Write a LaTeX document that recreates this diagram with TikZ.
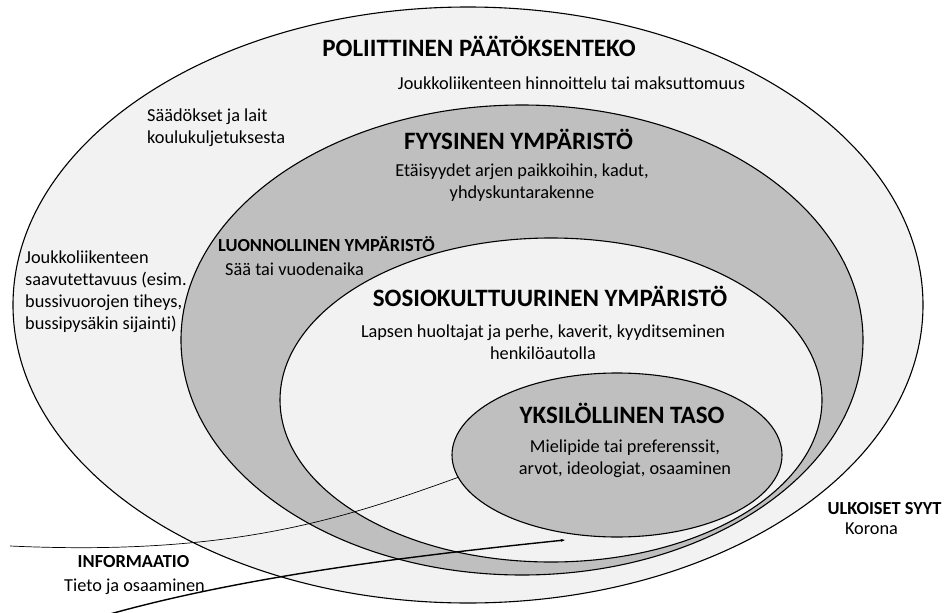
\documentclass[tikz,border=0pt]{standalone}
\usepackage{fontspec}
\setmainfont[Ligatures={NoCommon}]{Carlito}
\usetikzlibrary{shapes.geometric,arrows.meta}
\definecolor{ringlight}{HTML}{F2F2F2}
\definecolor{ringgray}{HTML}{BFBFBF}
\begin{document}
\begin{tikzpicture}[x=1pt,y=-1pt,
  ring/.style={ellipse,draw=black,line width=1.1pt,inner sep=0pt,outer sep=0pt},
  txt/.style={inner sep=0pt,font=\fontsize{18.3}{22}\selectfont},
  head/.style={inner sep=0pt,font=\fontsize{25}{30}\selectfont\bfseries},
  subhead/.style={inner sep=0pt,font=\fontsize{18.4}{22}\selectfont\bfseries}]
\useasboundingbox (0,0) rectangle (948,613);
\fill[white] (0,0) rectangle (948,613);
% rings
\node[ring,fill=ringlight,minimum width=910pt,minimum height=596pt] (polit) at (468,305) {};
\node[ring,fill=ringgray,minimum width=682pt,minimum height=470pt] (fyys) at (522,340) {};
\node[ring,fill=ringlight,minimum width=542pt,minimum height=324pt] (socio) at (551,400) {};
\node[ring,fill=ringgray,minimum width=330pt,minimum height=164pt] (yksi) at (617,455) {};
% texts (multi-line nodes: base = baseline of last line)
\node[head,anchor=base] (tpolit) at (479,56) {POLIITTINEN PÄÄTÖKSENTEKO};
\node[txt,anchor=base] (hinn) at (571.5,89) {Joukkoliikenteen hinnoittelu tai maksuttomuus};
\node[txt,anchor=base west,align=left] (saad) at (147,143.3) {Säädökset ja lait\\koulukuljetuksesta};
\node[head,anchor=base] (tfyys) at (518.5,149) {FYYSINEN YMPÄRISTÖ};
\node[txt,anchor=base,align=center] (etai) at (522,198) {Etäisyydet arjen paikkoihin, kadut,\\yhdyskuntarakenne};
\node[subhead,anchor=base west] (tluon) at (218,251) {LUONNOLLINEN YMPÄRISTÖ};
\node[txt,anchor=base west] (saa) at (225,275) {Sää tai vuodenaika};
\node[txt,anchor=base west,align=left] (jouk) at (25,329) {Joukkoliikenteen\\saavutettavuus (esim.\\bussivuorojen tiheys,\\bussipysäkin sijainti)};
\node[head,anchor=base] (tsosio) at (550,306) {SOSIOKULTTUURINEN YMPÄRISTÖ};
\node[txt,anchor=base,align=center] (laps) at (543,359) {Lapsen huoltajat ja perhe, kaverit, kyyditseminen\\henkilöautolla};
\node[head,anchor=base] (tyksi) at (622,423) {YKSILÖLLINEN TASO};
\node[txt,anchor=base,align=center] (miel) at (625,474) {Mielipide tai preferenssit,\\arvot, ideologiat, osaaminen};
\node[subhead,anchor=base] (tulk) at (884.5,514) {ULKOISET SYYT};
\node[txt,anchor=base] (koro) at (871.5,534) {Korona};
\node[subhead,anchor=base] (tinfo) at (133.5,567) {INFORMAATIO};
\node[txt,anchor=base] (tieto) at (134.5,591.7) {Tieto ja osaaminen};
% information connectors
\coordinate (infoA) at (10,546);
\draw[line width=0.7pt] (infoA) .. controls (230,556) and (340,520) .. (yksi.188);
\coordinate (infoB) at (110,614);
\coordinate (tipB) at (565,540);
\draw[line width=1.4pt,-{Stealth[length=4.5pt,width=3pt]}] (infoB) .. controls (250,575) and (420,555) .. (tipB);
\end{tikzpicture}
\end{document}
